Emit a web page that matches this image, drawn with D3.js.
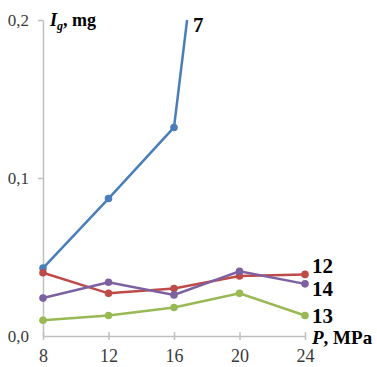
<!DOCTYPE html>
<html>
<head>
<meta charset="utf-8">
<script src="https://cdn.jsdelivr.net/npm/d3@7"></script>
<style>
  body { margin: 0; background: #fff; }
  svg { display: block; font-family: "Liberation Serif", "Times New Roman", serif; }
  .axis path, .axis line { stroke: #bfbfbf; stroke-width: 1.5; }
  .axis text { fill: #3a3a3a; font-family: "Liberation Serif", "Times New Roman", serif; }
</style>
</head>
<body>
<div id="chart"></div>
<script>
// pressure ticks, MPa
const pressures = [8, 12, 16, 20, 24];
const yTicks = [0, 0.1, 0.2];

// curve 7 climbs out of the plot past 16 MPa
const p7 = [8, 12, 16, 16.8];
const s7 = [0.043, 0.087, 0.132, 0.2];
const s12 = [0.040, 0.027, 0.030, 0.038, 0.039];
const s14 = [0.024, 0.034, 0.026, 0.041, 0.033];
const s13 = [0.010, 0.013, 0.018, 0.027, 0.013];

const series = [
  {name: '7', xs: p7, ys: s7, color: '#4a7ebb', markers: 3},
  {name: '12', xs: pressures, ys: s12, color: '#be4b48', markers: 5},
  {name: '14', xs: pressures, ys: s14, color: '#7d60a0', markers: 5},
  {name: '13', xs: pressures, ys: s13, color: '#98b954', markers: 5}
];

const width = 377, height = 367;
const x = d3.scaleLinear().domain([8, 24]).range([43, 305]);
const y = d3.scaleLinear().domain([0, 0.2]).range([336, 20]);

const svg = d3.select('#chart').append('svg')
  .attr('width', width)
  .attr('height', height);

// x axis, ticks cross the line
const xAxis = svg.append('g')
  .attr('class', 'axis')
  .attr('transform', `translate(0,${y(0)})`)
  .call(d3.axisBottom(x).tickValues(pressures).tickSize(4).tickSizeOuter(0).tickPadding(9));
xAxis.attr('font-family', null);
xAxis.selectAll('.tick line').attr('y1', -4);
xAxis.selectAll('.tick text').style('font-size', '18px');

const yAxis = svg.append('g')
  .attr('class', 'axis')
  .attr('transform', `translate(${x(8)},0)`)
  .call(d3.axisLeft(y).tickValues(yTicks).tickSize(5).tickSizeOuter(0).tickPadding(9)
    .tickFormat(d => d3.format('.1f')(d).replace('.', ',')));
yAxis.attr('font-family', null);
yAxis.selectAll('.tick text').style('font-size', '17px');
yAxis.selectAll('.tick').filter(d => d === 0).select('line').remove();

const line = d3.line().x(d => x(d[0])).y(d => y(d[1]));

series.forEach(s => {
  const pts = s.xs.map((v, i) => [v, s.ys[i]]);
  svg.append('path')
    .attr('d', line(pts))
    .attr('fill', 'none')
    .attr('stroke', s.color)
    .attr('stroke-width', 2.5);
  svg.selectAll(null)
    .data(pts.slice(0, s.markers))
    .enter().append('circle')
    .attr('cx', d => x(d[0]))
    .attr('cy', d => y(d[1]))
    .attr('r', 3.8)
    .attr('fill', s.color);
});

// curve labels
const labels = [
  {t: '7', px: 16.8, py: 0.2, dx: 6, dy: 5},
  {t: '12', px: 24, py: s12[4], dx: 7, dy: -8},
  {t: '14', px: 24, py: s14[4], dx: 7, dy: 5},
  {t: '13', px: 24, py: s13[4], dx: 7, dy: 1}
];
svg.selectAll('.clabel')
  .data(labels)
  .enter().append('text')
  .attr('class', 'clabel')
  .attr('x', d => x(d.px) + d.dx)
  .attr('y', d => y(d.py) + d.dy)
  .attr('dominant-baseline', 'central')
  .style('font-size', '21px')
  .style('font-weight', 'bold')
  .text(d => d.t);

// axis titles
const yt = svg.append('text')
  .attr('x', 50).attr('y', 26)
  .style('font-size', '18px').style('font-weight', 'bold');
yt.append('tspan').style('font-style', 'italic').text('I');
yt.append('tspan').style('font-style', 'italic').style('font-size', '12px').attr('dy', 4).text('g');
yt.append('tspan').attr('dy', -4).text(', mg');

const xt = svg.append('text')
  .attr('x', 312).attr('y', 344)
  .style('font-size', '19px').style('font-weight', 'bold');
xt.append('tspan').style('font-style', 'italic').text('P');
xt.append('tspan').text(', MPa');
</script>
</body>
</html>
